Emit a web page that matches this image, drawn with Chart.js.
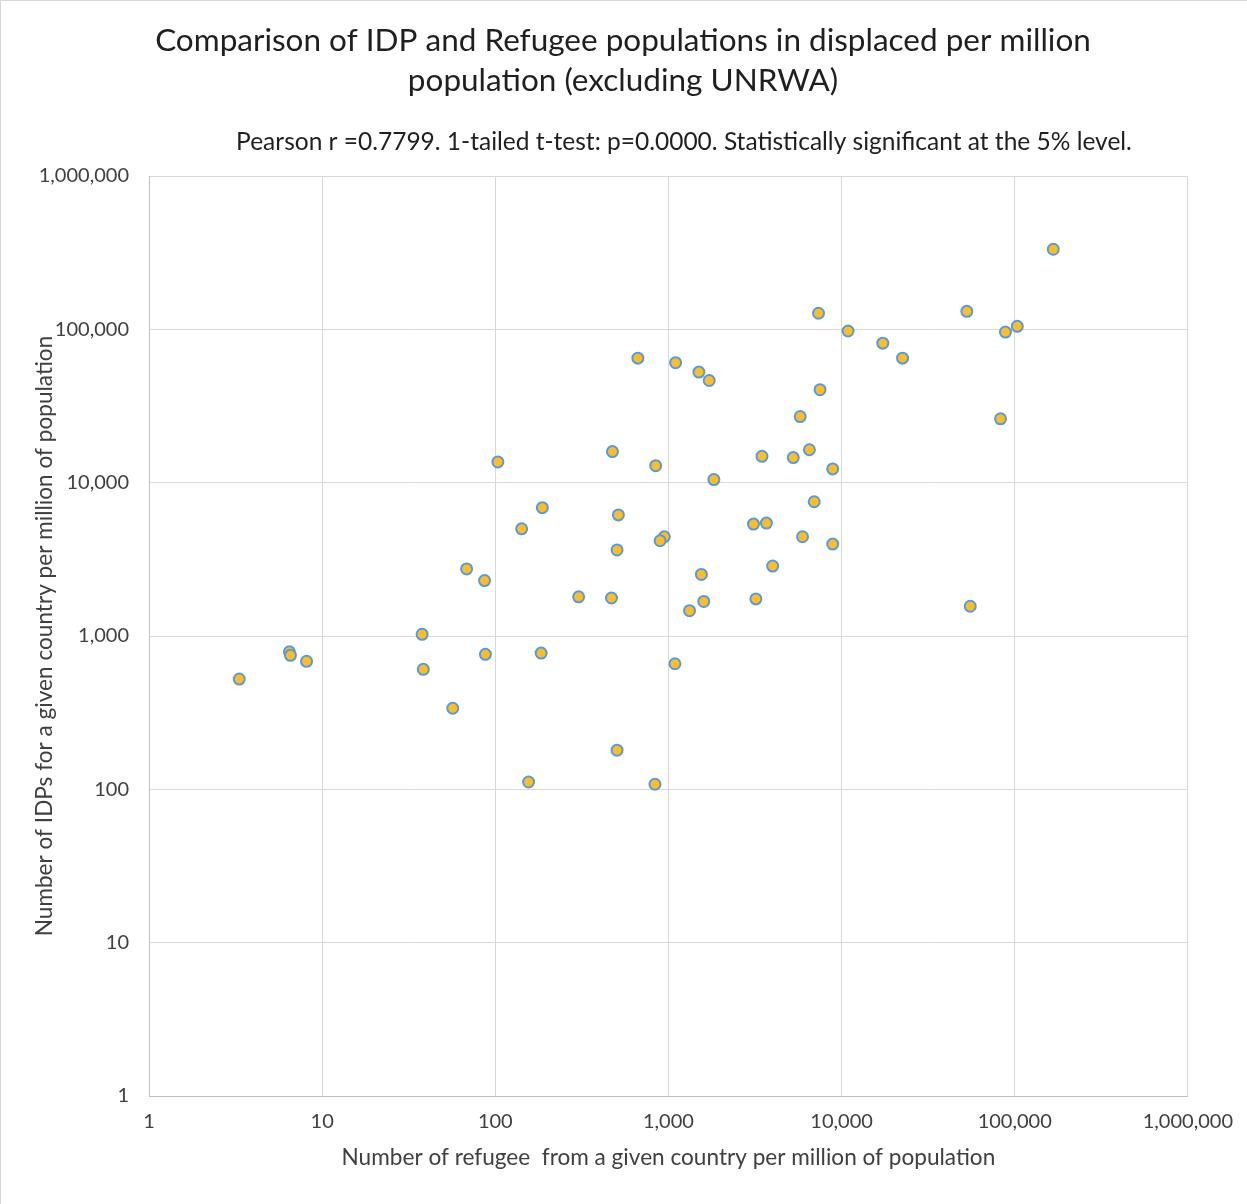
<!DOCTYPE html>
<html>
<head>
<meta charset="utf-8">
<title>IDP and Refugee populations</title>
<script src="https://cdn.jsdelivr.net/npm/chart.js@4.4.1/dist/chart.umd.min.js"></script>
<style>
  html, body { margin: 0; padding: 0; background: #fff; }
  #wrap { width: 1247px; height: 1204px; box-sizing: border-box; border-top: 1px solid #d9d9d9; border-left: 1px solid #d9d9d9; }
</style>
</head>
<body>
<div id="wrap"><canvas id="scatter"></canvas></div>
<script>
// refugees from a country per million of population (x) and IDPs per million (y)
var refugeesPerMillion = [
    167000, 52900, 7360, 103500, 88400, 10900, 17300, 22500, 666, 1100,
    1500, 1720, 7510, 82800, 5770, 6520, 475, 844, 103.5, 3470,
    5260, 8890, 1830, 187, 6950, 514, 142, 3100, 3680, 947,
    895, 5950, 8890, 505, 68.3, 4000, 86.7, 1550, 303, 469,
    3200, 1600, 55350, 1324, 37.8, 6.47, 6.56, 8.13, 87.7, 184,
    38.4, 1090, 3.32, 56.8, 505, 155.7, 836
];
var idpsPerMillion = [
    333000, 131000, 127300, 104600, 96000, 97500, 81300, 64900, 64900, 60600,
    52600, 46400, 40400, 26100, 27000, 16400, 15950, 12900, 13650, 14860,
    14570, 12300, 10470, 6870, 7510, 6160, 5000, 5370, 5450, 4440,
    4180, 4440, 3975, 3640, 2740, 2860, 2300, 2520, 1800, 1770,
    1745, 1680, 1564, 1462, 1026, 789, 748, 684, 759, 774,
    606, 659, 524, 338, 180, 111.6, 107.9
];
var axisTicks = [1, 10, 100, 1000, 10000, 100000, 1000000];
var tickLabels = ['1', '10', '100', '1,000', '10,000', '100,000', '1,000,000'];
var chartTitle = ['Comparison of IDP and Refugee populations in displaced per million', 'population (excluding UNRWA)'];
var noteText = 'Pearson r =0.7799. 1-tailed t-test: p=0.0000. Statistically significant at the 5% level.';
var xTitle = 'Number of refugee  from a given country per million of population';
var yTitle = 'Number of IDPs for a given country per million of population';

var points = [];
for (var i = 0; i < refugeesPerMillion.length; i++) {
    points.push({ x: refugeesPerMillion[i], y: idpsPerMillion[i] });
}

var fontFamily = 'Lato, "Open Sans", sans-serif';

function onlyDecades(scale) {
    scale.ticks = axisTicks.map(function (v) { return { value: v }; });
}
function decadeLabel(value) {
    var idx = axisTicks.indexOf(value);
    return idx >= 0 ? tickLabels[idx] : '';
}

// note line under the title, drawn a bit right of centre like the original
var noteLine = {
    id: 'noteLine',
    afterDraw: function (chart) {
        var ctx = chart.ctx;
        ctx.save();
        ctx.font = '24.5px ' + fontFamily;
        ctx.fillStyle = '#1f1f1f';
        ctx.textAlign = 'center';
        ctx.textBaseline = 'middle';
        ctx.fillText(noteText, 683, 141);
        ctx.restore();
    }
};

var chart = new Chart(document.getElementById('scatter'), {
    type: 'scatter',
    data: {
        datasets: [{
            label: 'IDPs vs refugees',
            data: points,
            backgroundColor: '#FBBD2C',
            borderColor: '#5B9BD5',
            borderWidth: 2,
            pointRadius: 5.5,
            pointHoverRadius: 5.5
        }]
    },
    options: {
        responsive: true,
        maintainAspectRatio: false,
        animation: false,
        layout: { padding: { right: 2 } },
        plugins: {
            legend: { display: false },
            tooltip: { enabled: false },
            title: {
                display: true,
                text: chartTitle,
                color: '#1f1f1f',
                font: { family: fontFamily, size: 31.5, weight: 'normal', lineHeight: 1.27 },
                padding: { top: 20, bottom: 75 }
            }
        },
        scales: {
            x: {
                type: 'logarithmic',
                min: 1,
                max: 1000000,
                afterBuildTicks: onlyDecades,
                afterFit: function (scale) { scale.height = 108; },
                grid: { color: '#d9d9d9', drawTicks: false },
                border: { color: '#bfbfbf', width: 1 },
                ticks: {
                    callback: decadeLabel,
                    color: '#404040',
                    padding: 14,
                    maxRotation: 0,
                    autoSkip: false,
                    font: { family: fontFamily, size: 20 }
                },
                title: {
                    display: true,
                    text: xTitle,
                    color: '#404040',
                    font: { family: fontFamily, size: 22.6 },
                    padding: { top: 0, bottom: 32.5 }
                }
            },
            y: {
                type: 'logarithmic',
                min: 1,
                max: 1000000,
                afterBuildTicks: onlyDecades,
                afterFit: function (scale) { scale.width = 148; },
                grid: { color: '#d9d9d9', drawTicks: false },
                border: { color: '#bfbfbf', width: 1 },
                ticks: {
                    callback: decadeLabel,
                    color: '#404040',
                    padding: 20,
                    autoSkip: false,
                    font: { family: fontFamily, size: 20 }
                },
                title: {
                    display: true,
                    text: yTitle,
                    color: '#404040',
                    font: { family: fontFamily, size: 22.6 },
                    padding: { top: 30.5, bottom: 0 }
                }
            }
        }
    },
    plugins: [noteLine]
});
</script>
</body>
</html>
